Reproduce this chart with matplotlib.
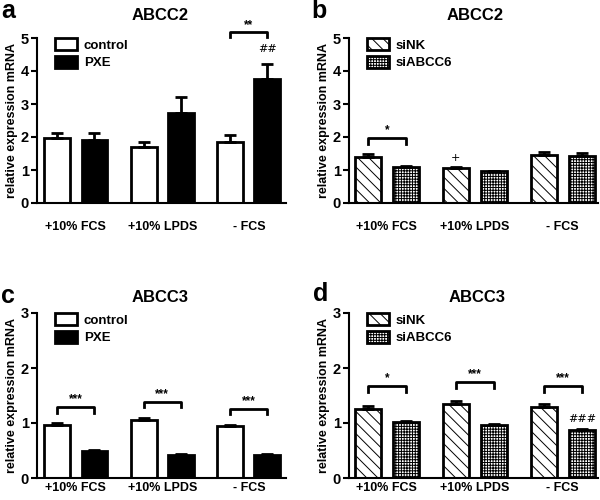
import numpy as np
import matplotlib
matplotlib.use('Agg')
import matplotlib.pyplot as plt

plt.rcParams['font.family'] = 'Liberation Sans'
plt.rcParams['font.weight'] = 'bold'
plt.rcParams['hatch.linewidth'] = 0.7

groups = ['+10% FCS', '+10% LPDS', '- FCS']

# panel a: ABCC2, control vs PXE
a_control = [1.97, 1.70, 1.86]
a_control_err = [0.15, 0.15, 0.20]
a_pxe = [1.90, 2.73, 3.75]
a_pxe_err = [0.22, 0.49, 0.45]

# panel b: ABCC2, siNK vs siABCC6
b_sink = [1.39, 1.05, 1.46]
b_sink_err = [0.08, 0.05, 0.09]
b_siabcc6 = [1.09, 0.96, 1.42]
b_siabcc6_err = [0.04, 0.02, 0.11]

# panel c: ABCC3, control vs PXE
c_control = [0.97, 1.06, 0.95]
c_control_err = [0.03, 0.04, 0.02]
c_pxe = [0.485, 0.42, 0.41]
c_pxe_err = [0.03, 0.025, 0.025]

# panel d: ABCC3, siNK vs siABCC6
d_sink = [1.25, 1.34, 1.30]
d_sink_err = [0.06, 0.06, 0.04]
d_siabcc6 = [1.01, 0.97, 0.88]
d_siabcc6_err = [0.02, 0.02, 0.02]

# significance brackets: (group, bracket height, leg bottom, label)
a_brackets = [(2, 5.17, 5.02, '**')]
b_brackets = [(0, 1.98, 1.80, '*')]
c_brackets = [(0, 1.30, 1.19, '***'), (1, 1.39, 1.29, '***'), (2, 1.25, 1.16, '***')]
d_brackets = [(0, 1.67, 1.56, '*'), (1, 1.74, 1.64, '***'), (2, 1.68, 1.57, '***')]

# marks above single bars: (group, series index, y, label)
a_marks = [(2, 1, 4.50, '##')]
b_marks = [(1, 0, 1.22, '+')]
d_marks = [(2, 1, 0.99, '###')]

W, H = 600, 500
fig = plt.figure(figsize=(6, 5), dpi=100)

OFF = 0.215
BW = 0.30


def px_axes(left, right, top, bottom):
    return fig.add_axes([left / W, 1 - bottom / H, (right - left) / W, (bottom - top) / H])


def panel(ax, s1, e1, s2, e2, style, ymax, xlim, brackets, marks, labels, tpad):
    x = np.arange(len(groups))
    if style == 'solid':
        k1 = dict(color='white', edgecolor='black')
        k2 = dict(color='black', edgecolor='black')
    else:
        k1 = dict(color='white', edgecolor='black', hatch='\\\\\\')
        k2 = dict(color='white', edgecolor='black', hatch='++++++')
    ax.bar(x - OFF, s1, BW, linewidth=2, label=labels[0], zorder=2, **k1)
    ax.bar(x + OFF, s2, BW, linewidth=2, label=labels[1], zorder=2, **k2)
    for xs, s, e in [(x - OFF, s1, e1), (x + OFF, s2, e2)]:
        ax.errorbar(xs, s, yerr=[np.zeros(len(s)), e], fmt='none', ecolor='black',
                    elinewidth=2, capsize=4.5, capthick=2, zorder=3)
    for g, yb, yl, txt in brackets:
        xl, xr = g - OFF, g + OFF
        ax.plot([xl, xl, xr, xr], [yl, yb, yb, yl], color='black', lw=2,
                clip_on=False, zorder=4)
        ax.text(g, yb + 0.01 * ymax, txt, ha='center', va='bottom', fontsize=8.5,
                fontweight='bold', clip_on=False)
    for g, si, yv, txt in marks:
        xc = g + (OFF if si == 1 else -OFF)
        ax.text(xc, yv, txt, ha='center', va='bottom', fontsize=8,
                fontweight='normal', family='DejaVu Serif', clip_on=False)
    ax.set_xlim(*xlim)
    ax.set_ylim(0, ymax)
    ax.set_yticks(range(0, ymax + 1))
    ax.set_xticks(x)
    ax.set_xticklabels(groups)
    ax.tick_params(axis='x', length=0, pad=tpad, labelsize=9)
    ax.tick_params(axis='y', length=4, width=1.5, labelsize=10.5, pad=2)
    for sp in ['top', 'right']:
        ax.spines[sp].set_visible(False)
    for sp in ['left', 'bottom']:
        ax.spines[sp].set_linewidth(1.5)
    ax.set_ylabel('relative expression mRNA', fontsize=9, fontweight='bold', labelpad=2)
    ax.legend(loc='upper left', bbox_to_anchor=(0.05, 1.03), frameon=False,
              fontsize=9.5, handlelength=1.7, handleheight=1.0,
              labelspacing=0.3, handletextpad=0.5, borderaxespad=0)


ax_a = px_axes(37, 286, 38, 203)
panel(ax_a, a_control, a_control_err, a_pxe, a_pxe_err, 'solid', 5, (-0.45, 2.43),
      a_brackets, a_marks, ['control', 'PXE'], 13)
ax_b = px_axes(349, 598, 38, 203)
panel(ax_b, b_sink, b_sink_err, b_siabcc6, b_siabcc6_err, 'hatch', 5, (-0.43, 2.40),
      b_brackets, b_marks, ['siNK', 'siABCC6'], 13)
ax_c = px_axes(37, 286, 313, 478)
panel(ax_c, c_control, c_control_err, c_pxe, c_pxe_err, 'solid', 3, (-0.45, 2.43),
      c_brackets, [], ['control', 'PXE'], 3)
ax_d = px_axes(349, 598, 313, 478)
panel(ax_d, d_sink, d_sink_err, d_siabcc6, d_siabcc6_err, 'hatch', 3, (-0.43, 2.40),
      d_brackets, d_marks, ['siNK', 'siABCC6'], 3)

# titles and panel letters
for txt, xp, yp in [('ABCC2', 160, 15), ('ABCC2', 475, 15), ('ABCC3', 160, 298), ('ABCC3', 477, 298)]:
    fig.text(xp / W, 1 - yp / H, txt, ha='center', va='center', fontsize=12, fontweight='bold')
for txt, xp, yp in [('a', 8, 11), ('b', 319, 11), ('c', 8, 296), ('d', 321, 294)]:
    fig.text(xp / W, 1 - yp / H, txt, ha='center', va='center', fontsize=18, fontweight='bold')

fig.savefig('out.png', dpi=100, facecolor='white')
